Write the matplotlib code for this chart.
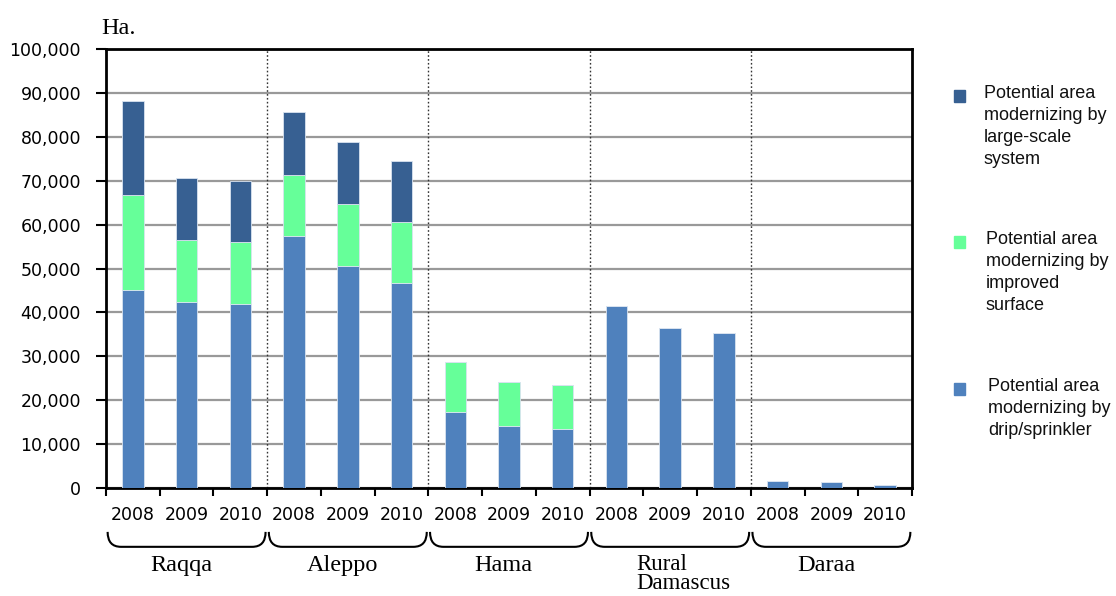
import matplotlib.pyplot as plt
from matplotlib.path import Path
from matplotlib.patches import PathPatch, Rectangle
import numpy as np

# Irrigated area (ha) that could be modernized, by governorate and year
governorates = ["Raqqa", "Aleppo", "Hama", "Rural\nDamascus", "Daraa"]
years = ["2008", "2009", "2010"]

drip = [45200, 42400, 42000,
        57300, 50600, 46700,
        17300, 14100, 13400,
        41400, 36400, 35200,
        1700, 1400, 700]
surface = [21500, 14200, 14000,
           14100, 14200, 13900,
           11500, 10000, 10000,
           0, 0, 0,
           0, 0, 0]
large_scale = [21400, 14000, 13900,
               14200, 14000, 14000,
               0, 0, 0,
               0, 0, 0,
               0, 0, 0]

series_labels = [
    "Potential area\nmodernizing by\nlarge-scale\nsystem",
    "Potential area\nmodernizing by\nimproved\nsurface",
    "Potential area\nmodernizing by\ndrip/sprinkler",
]
c_large = "#376092"
c_surf = "#66FF99"
c_drip = "#4F81BD"

W, H = 1116, 596
fig = plt.figure(figsize=(W / 100, H / 100), dpi=100)
ax = fig.add_axes([106 / W, 1 - 488 / H, (912 - 106) / W, (488 - 49) / H])

n = len(drip)
x = np.arange(n)
drip = np.array(drip)
surface = np.array(surface)
large_scale = np.array(large_scale)

bw = 0.4
edge = dict(edgecolor="#d9e3f0", linewidth=0.6)
ax.bar(x, drip, bw, color=c_drip, zorder=3, **edge)
ax.bar(x, surface, bw, bottom=drip, color=c_surf, zorder=3, **edge)
ax.bar(x, large_scale, bw, bottom=drip + surface, color=c_large, zorder=3, **edge)

ax.set_xlim(-0.5, n - 0.5)
ax.set_ylim(0, 100000)
ax.set_yticks(np.arange(0, 100001, 10000))
ax.set_yticklabels([f"{v:,}" for v in range(0, 100001, 10000)], fontsize=12.5)
ax.yaxis.grid(True, color="#999999", linewidth=1.6, zorder=1)
ax.tick_params(axis="y", direction="out", length=7, width=1.5, pad=11)

# boundaries get tick marks, years sit under the bar centres
ax.set_xticks(np.arange(-0.5, n, 1.0))
ax.set_xticklabels([])
ax.tick_params(axis="x", which="major", direction="out", length=6, width=1.5)
ax.set_xticks(x, minor=True)
ax.set_xticklabels(years * len(governorates), minor=True, fontsize=12.5)
ax.tick_params(axis="x", which="minor", length=0, pad=13)

for s in ax.spines.values():
    s.set_linewidth(2)
    s.set_color("black")

# dotted separators between governorates
for b in np.arange(2.5, n - 1, 3):
    ax.axvline(b, color="#333333", linestyle=(0, (1.2, 1.6)), linewidth=1, zorder=2)

# curly brackets with governorate names below the years
trans = ax.get_xaxis_transform()
y_top, y_bot = -0.100, -0.134
for g, name in enumerate(governorates):
    x0 = 3 * g - 0.5 + 0.03
    x1 = 3 * g + 2.5 - 0.03
    r = 0.25
    verts = [(x0, y_top), (x0, y_bot), (x0 + r, y_bot),
             (x1 - r, y_bot),
             (x1, y_bot), (x1, y_top)]
    codes = [Path.MOVETO, Path.CURVE3, Path.CURVE3,
             Path.LINETO,
             Path.CURVE3, Path.CURVE3]
    ax.add_patch(PathPatch(Path(verts, codes), transform=trans, fill=False,
                           lw=1.5, edgecolor="black", clip_on=False))
    cx = 3 * g + 1
    if "\n" in name:
        ax.text(cx + 0.25, -0.196, name, transform=trans, ha="center", va="center",
                multialignment="left", fontsize=16.5, family="Liberation Serif",
                linespacing=0.92)
    else:
        ax.text(cx - 0.1, -0.176, name, transform=trans, ha="center", va="center",
                fontsize=17.5, family="Liberation Serif")

fig.text(101 / W, 1 - 28 / H, "Ha.", ha="left", va="center", fontsize=17.5,
         family="Liberation Serif")

# legend on the right
colors = [c_large, c_surf, c_drip]
marker_y = [96, 242, 389]
text_x = [984, 986, 988]
for lab, col, my, tx in zip(series_labels, colors, marker_y, text_x):
    fig.patches.append(Rectangle((954 / W, 1 - (my + 6) / H), 11 / W, 12 / H,
                                 transform=fig.transFigure, color=col))
    fig.text(tx / W, 1 - (my - 11) / H, lab, ha="left", va="top", fontsize=13,
             family="Liberation Sans", linespacing=1.38, color="#111111")

fig.savefig("out.png", dpi=100)
